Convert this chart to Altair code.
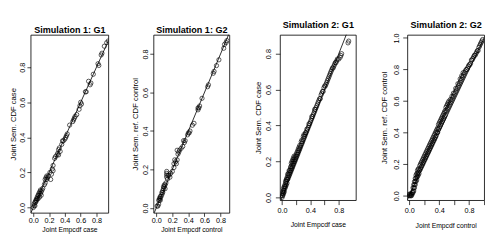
import altair as alt
import pandas as pd

FONT = "Liberation Sans"

p1_x = [0.00,0.01,0.01,0.02,0.02,0.03,0.03,0.04,0.04,0.05,
        0.05,0.06,0.06,0.07,0.07,0.08,0.08,0.09,0.09,0.10,
        0.10,0.11,0.12,0.14,0.15,0.15,0.16,0.17,0.17,0.18,
        0.19,0.21,0.22,0.23,0.24,0.25,0.25,0.27,0.28,0.30,
        0.31,0.32,0.32,0.33,0.34,0.36,0.37,0.38,0.40,0.41,
        0.42,0.43,0.46,0.50,0.51,0.52,0.53,0.55,0.58,0.59,
        0.60,0.61,0.66,0.67,0.70,0.72,0.73,0.76,0.82,0.83,
        0.86,0.87,0.90,0.93,0.95]
p1_y = [0.00,0.01,0.02,0.01,0.03,0.03,0.04,0.04,0.05,0.05,
        0.06,0.05,0.07,0.07,0.08,0.06,0.09,0.08,0.10,0.09,
        0.07,0.10,0.11,0.13,0.14,0.16,0.17,0.18,0.16,0.17,
        0.18,0.20,0.16,0.19,0.22,0.24,0.21,0.28,0.29,0.30,
        0.31,0.33,0.30,0.34,0.32,0.36,0.38,0.38,0.39,0.40,
        0.41,0.42,0.47,0.49,0.50,0.51,0.52,0.53,0.56,0.58,
        0.60,0.59,0.66,0.66,0.72,0.70,0.71,0.76,0.82,0.81,
        0.87,0.88,0.92,0.94,0.95]

p2_x = [0.01,0.02,0.03,0.03,0.04,0.04,0.05,0.05,0.05,0.06,
        0.07,0.07,0.08,0.08,0.09,0.09,0.10,0.10,0.11,0.11,
        0.12,0.13,0.13,0.13,0.13,0.14,0.15,0.16,0.17,0.18,
        0.20,0.22,0.22,0.23,0.24,0.25,0.26,0.26,0.27,0.28,
        0.29,0.31,0.33,0.34,0.35,0.36,0.39,0.40,0.41,0.42,
        0.45,0.47,0.52,0.52,0.53,0.54,0.57,0.64,0.65,0.71,
        0.72,0.75,0.78,0.84,0.85,0.87,0.88]
p2_y = [0.01,0.01,0.02,0.04,0.04,0.05,0.05,0.06,0.04,0.06,
        0.07,0.08,0.09,0.08,0.10,0.11,0.11,0.12,0.12,0.10,
        0.13,0.16,0.17,0.18,0.19,0.15,0.17,0.17,0.16,0.18,
        0.19,0.21,0.23,0.25,0.24,0.23,0.25,0.30,0.28,0.29,
        0.30,0.31,0.32,0.35,0.34,0.35,0.38,0.39,0.39,0.40,
        0.43,0.44,0.51,0.52,0.52,0.53,0.57,0.63,0.64,0.70,
        0.71,0.74,0.77,0.83,0.85,0.86,0.87]

p3_x = [0.00,0.00,0.01,0.01,0.01,0.02,0.02,0.02,0.02,0.03,
        0.03,0.03,0.04,0.04,0.04,0.05,0.05,0.05,0.06,0.06,
        0.06,0.07,0.07,0.07,0.08,0.08,0.08,0.09,0.09,0.10,
        0.10,0.10,0.11,0.11,0.12,0.12,0.12,0.13,0.13,0.13,
        0.14,0.14,0.14,0.15,0.15,0.15,0.16,0.16,0.16,0.17,
        0.17,0.17,0.18,0.18,0.19,0.19,0.20,0.20,0.21,0.21,
        0.22,0.22,0.23,0.23,0.24,0.24,0.25,0.25,0.26,0.27,
        0.27,0.28,0.28,0.29,0.30,0.30,0.31,0.31,0.32,0.33,
        0.33,0.34,0.35,0.35,0.36,0.37,0.38,0.38,0.39,0.40,
        0.41,0.42,0.42,0.43,0.44,0.45,0.46,0.46,0.47,0.48,
        0.49,0.50,0.51,0.52,0.53,0.54,0.55,0.56,0.57,0.58,
        0.59,0.60,0.61,0.62,0.63,0.64,0.65,0.66,0.67,0.68,
        0.69,0.70,0.71,0.72,0.73,0.74,0.75,0.76,0.77,0.78,
        0.80,0.82,0.83,0.84,0.93,0.94]
p3_y = [0.00,0.01,0.01,0.02,0.03,0.02,0.03,0.04,0.05,0.03,
        0.04,0.06,0.05,0.06,0.07,0.06,0.08,0.09,0.07,0.09,
        0.10,0.08,0.10,0.11,0.10,0.12,0.13,0.11,0.13,0.12,
        0.14,0.15,0.13,0.15,0.14,0.16,0.17,0.15,0.17,0.19,
        0.16,0.18,0.20,0.17,0.19,0.21,0.18,0.20,0.22,0.19,
        0.21,0.23,0.20,0.22,0.21,0.23,0.22,0.24,0.23,0.25,
        0.24,0.26,0.25,0.27,0.26,0.28,0.27,0.29,0.28,0.29,
        0.31,0.30,0.32,0.31,0.32,0.34,0.33,0.35,0.34,0.35,
        0.36,0.36,0.37,0.38,0.38,0.39,0.40,0.41,0.41,0.42,
        0.43,0.44,0.45,0.45,0.46,0.47,0.48,0.49,0.49,0.50,
        0.51,0.52,0.53,0.54,0.55,0.55,0.57,0.58,0.59,0.59,
        0.61,0.62,0.62,0.63,0.64,0.65,0.66,0.67,0.68,0.69,
        0.70,0.71,0.72,0.72,0.73,0.74,0.75,0.75,0.76,0.77,
        0.77,0.78,0.79,0.80,0.86,0.87]

p4_x = [0.00,0.00,0.01,0.01,0.02,0.02,0.03,0.03,0.04,0.04,
        0.05,0.05,0.05,0.06,0.06,0.06,0.07,0.07,0.07,0.08,
        0.08,0.08,0.09,0.09,0.09,0.10,0.10,0.10,0.11,0.11,
        0.11,0.12,0.12,0.12,0.13,0.13,0.14,0.14,0.15,0.15,
        0.16,0.16,0.17,0.17,0.18,0.18,0.19,0.19,0.20,0.20,
        0.21,0.21,0.22,0.22,0.23,0.23,0.24,0.24,0.25,0.25,
        0.26,0.26,0.27,0.27,0.28,0.28,0.29,0.29,0.30,0.30,
        0.31,0.31,0.32,0.32,0.33,0.33,0.34,0.34,0.35,0.35,
        0.36,0.36,0.37,0.37,0.38,0.38,0.39,0.39,0.40,0.40,
        0.41,0.41,0.42,0.42,0.43,0.43,0.44,0.44,0.45,0.45,
        0.46,0.46,0.47,0.47,0.48,0.48,0.49,0.49,0.50,0.50,
        0.51,0.51,0.52,0.52,0.53,0.53,0.54,0.55,0.55,0.56,
        0.57,0.57,0.58,0.59,0.59,0.60,0.61,0.62,0.62,0.63,
        0.64,0.65,0.65,0.66,0.67,0.68,0.68,0.69,0.70,0.70,
        0.71,0.72,0.72,0.73,0.74,0.75,0.76,0.77,0.78,0.79,
        0.80,0.81,0.82,0.83,0.84,0.85,0.86,0.87,0.88,0.89,
        0.90,0.91,0.92,0.93,0.94,0.95,0.96,0.97,0.98]
p4_y = [0.00,0.01,0.00,0.01,0.00,0.01,0.00,0.01,0.01,0.02,
        0.02,0.03,0.05,0.03,0.05,0.07,0.05,0.07,0.09,0.07,
        0.09,0.11,0.09,0.11,0.13,0.10,0.12,0.14,0.12,0.14,
        0.16,0.13,0.15,0.17,0.14,0.17,0.16,0.19,0.17,0.20,
        0.18,0.21,0.19,0.22,0.20,0.23,0.21,0.24,0.22,0.25,
        0.23,0.26,0.24,0.27,0.25,0.28,0.26,0.29,0.27,0.30,
        0.28,0.31,0.29,0.32,0.30,0.33,0.31,0.34,0.32,0.35,
        0.33,0.36,0.34,0.37,0.35,0.38,0.36,0.39,0.37,0.40,
        0.38,0.41,0.40,0.42,0.40,0.43,0.42,0.45,0.43,0.46,
        0.44,0.47,0.45,0.48,0.46,0.49,0.47,0.50,0.48,0.51,
        0.49,0.52,0.50,0.53,0.51,0.54,0.53,0.56,0.54,0.57,
        0.55,0.58,0.56,0.59,0.57,0.60,0.58,0.59,0.61,0.60,
        0.61,0.63,0.62,0.63,0.65,0.64,0.65,0.66,0.68,0.67,
        0.68,0.69,0.71,0.70,0.71,0.72,0.74,0.73,0.74,0.76,
        0.75,0.76,0.78,0.77,0.78,0.79,0.80,0.80,0.81,0.82,
        0.83,0.83,0.84,0.86,0.86,0.87,0.88,0.89,0.89,0.90,
        0.91,0.92,0.92,0.94,0.95,0.96,0.97,0.98,0.99]

diag = [-0.2, 1.2]

titles = ["Simulation 1: G1", "Simulation 1: G2", "Simulation 2: G1", "Simulation 2: G2"]
xlabels = ["Joint Empcdf case", "Joint Empcdf control", "Joint Empcdf case", "Joint Empcdf control"]
ylabels = ["Joint Sem. CDF case", "Joint Sem. ref. CDF control", "Joint Sem. CDF case", "Joint Sem. ref. CDF control"]

x_ticks_a = [0.0, 0.2, 0.4, 0.6, 0.8]
x_ticks_b = [0.0, 0.2, 0.4, 0.6, 0.8, 1.0]
y_ticks_a = [0.0, 0.2, 0.4, 0.6, 0.8]
y_ticks_b = [0.0, 0.2, 0.4, 0.6, 0.8, 1.0]


def panel(title, xs, ys, xdom, ydom, xvals, yvals, xlab, ylab, w, h,
          title_pad, tick, lpad, ytpad, xtpad, skip_labels):
    df = pd.DataFrame({"x": list(xs), "y": list(ys)})
    ld = pd.DataFrame({"x": diag, "y": diag})
    label_expr = "datum.label"
    if skip_labels:
        label_expr = "(datum.label == '0.2' || datum.label == '0.6' || datum.label == '1.0') ? '' : datum.label"
    xaxis = alt.Axis(values=xvals, format=".1f", title=xlab, grid=False, domain=False,
                     orient="bottom",
                     tickSize=tick, tickColor="black", tickWidth=0.8,
                     labelPadding=lpad, labelFont=FONT, labelFontSize=8, labelColor="black",
                     labelFlush=False, labelOverlap=False, labelExpr=label_expr,
                     titleFont=FONT, titleFontSize=7.5, titleFontWeight="normal",
                     titleColor="black", titlePadding=xtpad)
    topaxis = alt.Axis(orient="top", title=title, grid=False, domain=False,
                       ticks=False, labels=False,
                       titleFont=FONT, titleFontSize=10, titleFontWeight="bold",
                       titleColor="black", titlePadding=title_pad)
    yaxis = alt.Axis(values=yvals, format=".1f", title=ylab, grid=False, domain=False,
                     tickSize=tick, tickColor="black", tickWidth=0.8,
                     labelPadding=lpad, labelFont=FONT, labelFontSize=8, labelColor="black",
                     labelAngle=270, labelAlign="center", labelBaseline="bottom",
                     labelFlush=False, labelOverlap=False,
                     titleFont=FONT, titleFontSize=8.5, titleFontWeight="normal",
                     titleColor="black", titlePadding=ytpad)
    xs_ = alt.Scale(domain=xdom, nice=False, zero=False)
    ys_ = alt.Scale(domain=ydom, nice=False, zero=False)
    line = alt.Chart(ld).mark_line(color="black", strokeWidth=0.9, clip=True).encode(
        x=alt.X("x:Q", scale=xs_, axis=xaxis),
        y=alt.Y("y:Q", scale=ys_, axis=yaxis),
    )
    pts = alt.Chart(df).mark_point(shape="circle", filled=False, color="black",
                                   size=22, strokeWidth=0.7, opacity=1, clip=True).encode(
        x=alt.X("x:Q", scale=xs_, axis=topaxis),
        y=alt.Y("y:Q", scale=ys_, axis=yaxis),
    )
    return alt.layer(line, pts).resolve_axis(x="independent").properties(width=w, height=h)


c1 = panel(titles[0], p1_x, p1_y, [-0.035, 0.95], [-0.03, 0.985], x_ticks_a, y_ticks_a,
           xlabels[0], ylabels[0], 86, 197, 1, 4, 1, 2, 2, False)
c2 = panel(titles[1], p2_x, p2_y, [-0.035, 0.91], [-0.025, 0.90], x_ticks_a, y_ticks_a,
           xlabels[1], ylabels[1], 84, 197, 1, 4, 1, 3, 2, False)
c3 = panel(titles[2], p3_x, p3_y, [-0.03, 1.04], [-0.015, 0.905], x_ticks_a, y_ticks_a,
           xlabels[2], ylabels[2], 84, 183, 6, 5, 3, 4, 7, True)
c4 = panel(titles[3], p4_x, p4_y, [-0.026, 1.0], [-0.028, 1.02], x_ticks_b, y_ticks_b,
           xlabels[3], ylabels[3], 85, 183, 6, 5, 3, 5, 8, True)

left_pair = alt.hconcat(c1, c2, spacing=23)
right_pair = alt.hconcat(c3, c4, spacing=25)

chart = alt.hconcat(left_pair, right_pair, spacing=25).properties(
    padding=0, background="white"
).configure_view(stroke="black", strokeWidth=0.9)

chart.save("out.html", embed_options={"renderer": "svg", "actions": False})
